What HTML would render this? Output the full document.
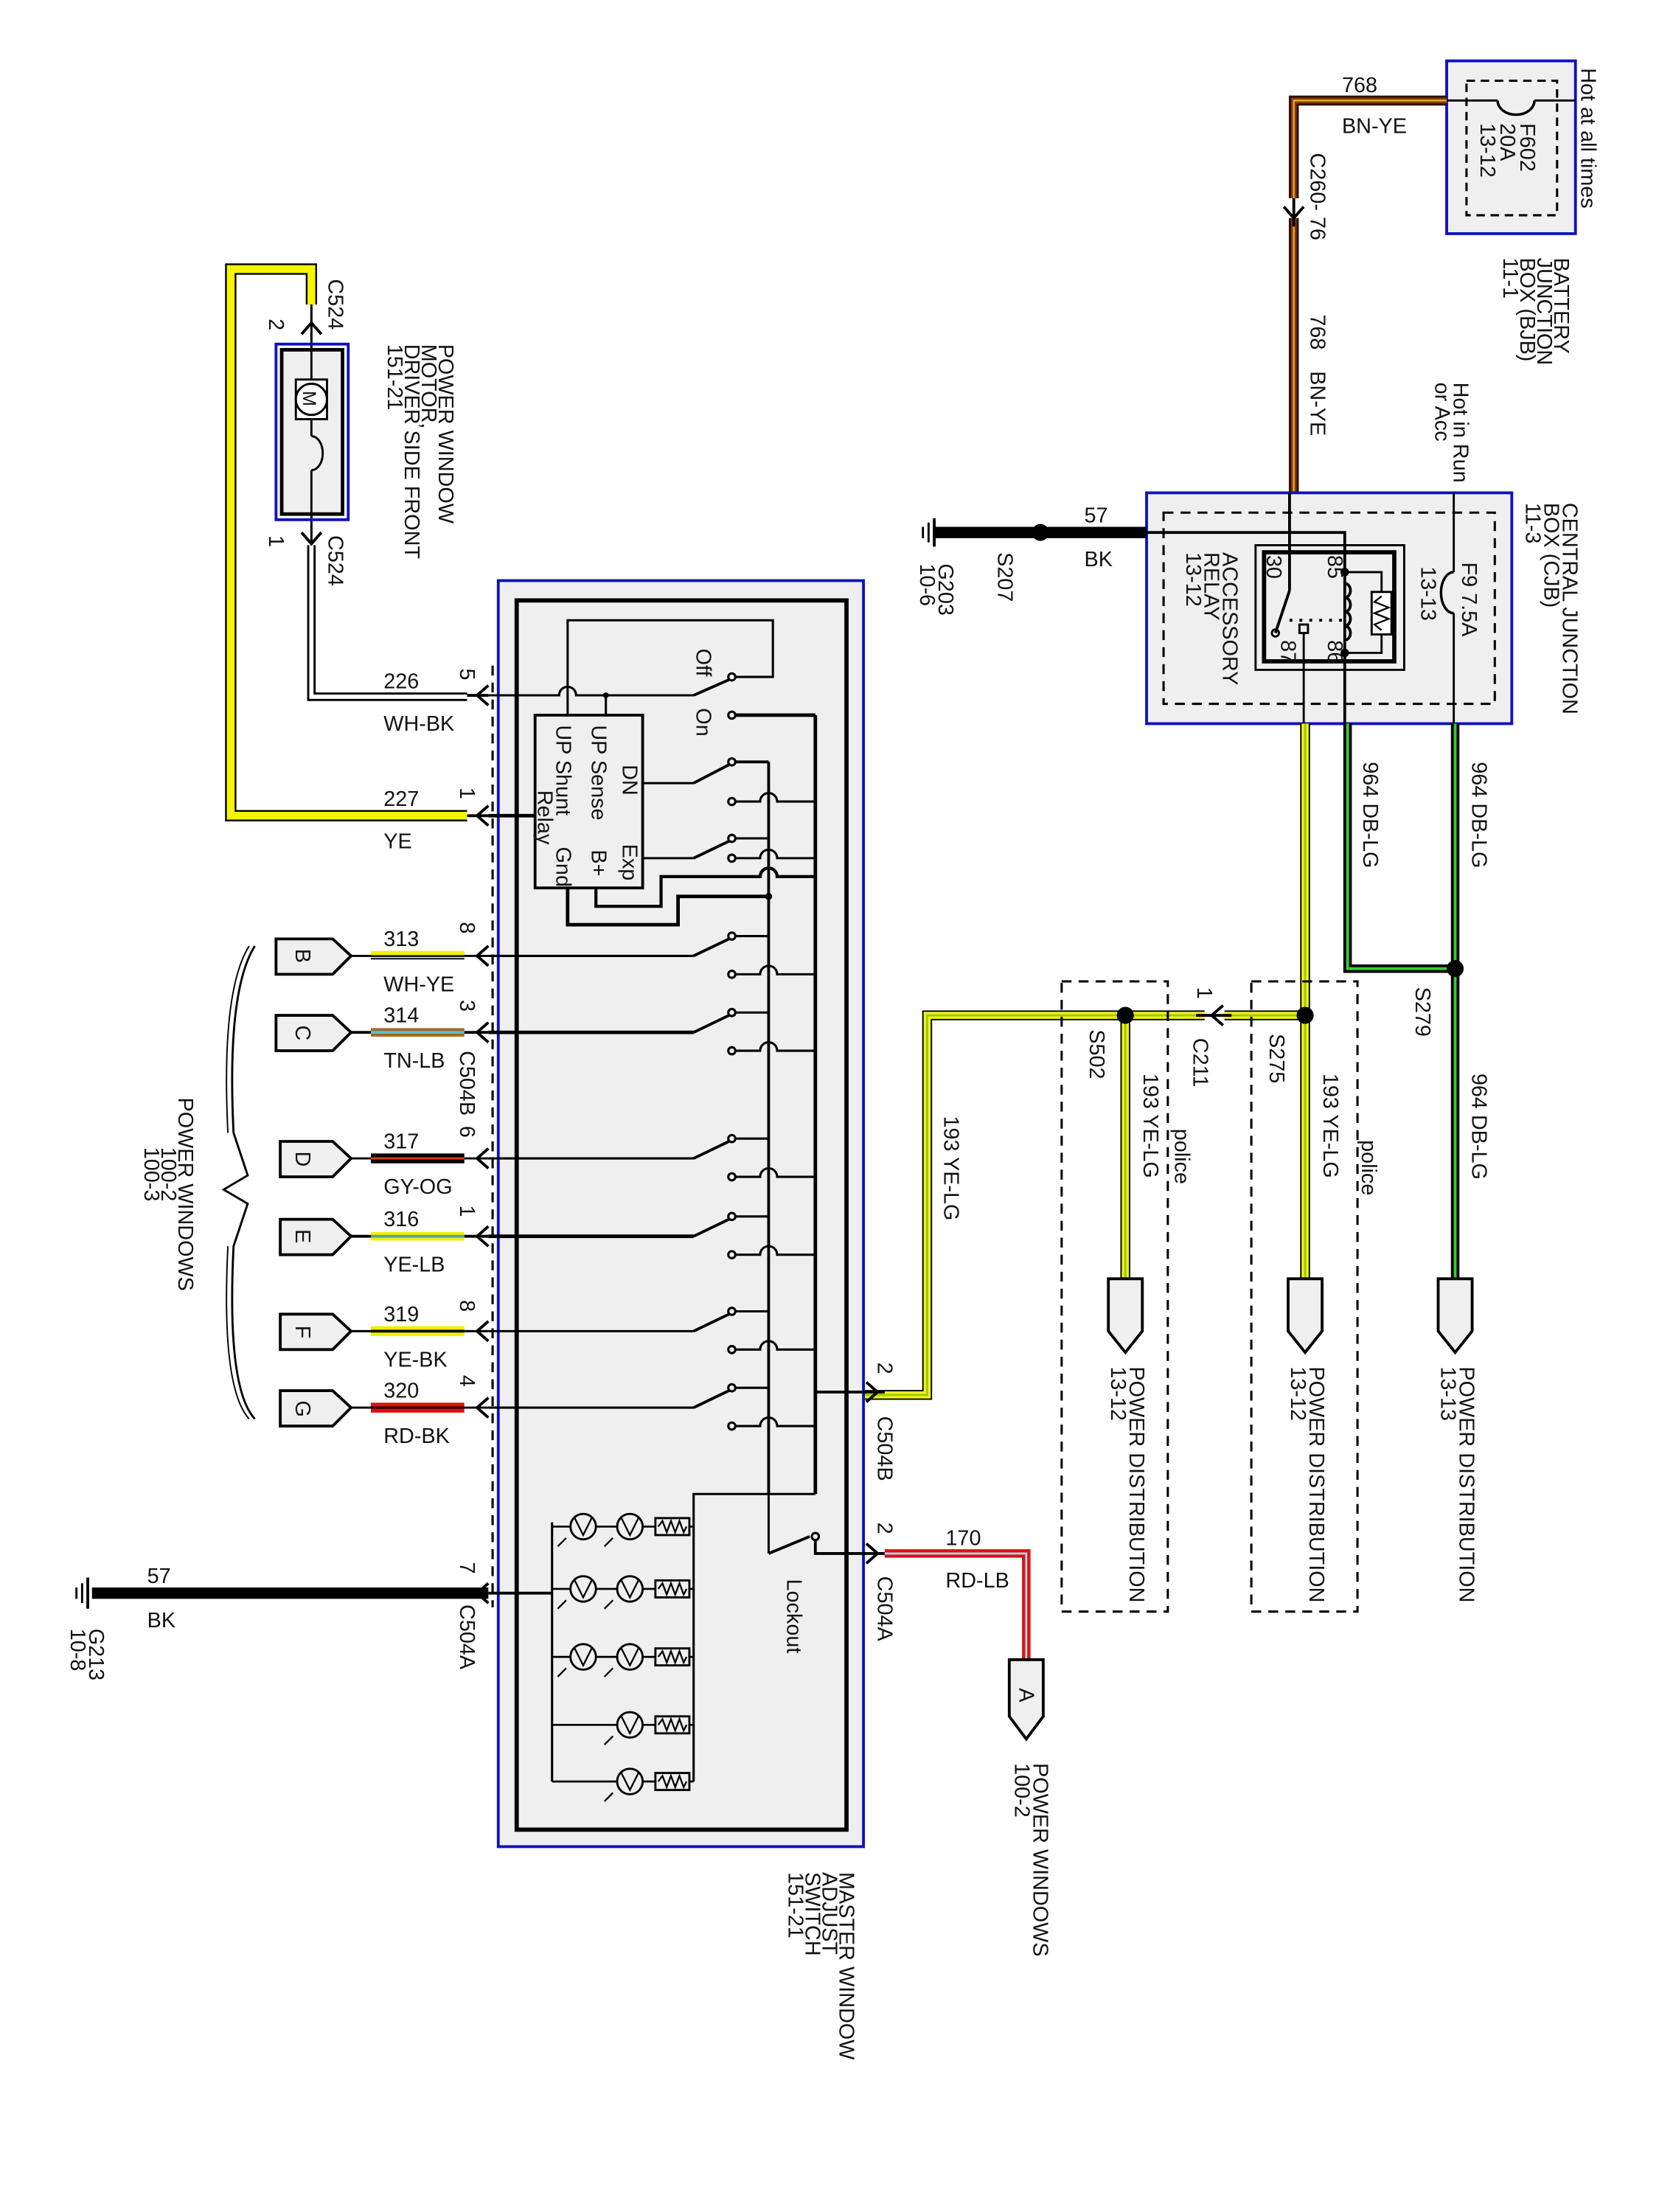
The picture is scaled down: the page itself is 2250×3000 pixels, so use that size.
<!DOCTYPE html>
<html><head><meta charset="utf-8"><style>
html,body{margin:0;padding:0;background:#fff}
svg{display:block}
text{font-family:"Liberation Sans",sans-serif;font-size:15px;fill:#111}
</style></head><body>
<svg width="2250" height="3000" viewBox="0 0 1172 1562" preserveAspectRatio="none" xmlns="http://www.w3.org/2000/svg">
<rect width="1172" height="1562" fill="#fff"/>

<!-- ===== BJB ===== -->
<rect x="1022" y="43" width="91" height="122" fill="#efefef" stroke="#1010c0" stroke-width="2"/>
<rect x="1036" y="57" width="64" height="95" fill="none" stroke="#000" stroke-width="1.6" stroke-dasharray="6,4"/>
<line x1="1022" y1="71" x2="1058" y2="71" stroke="#000" stroke-width="1.5"/>
<line x1="1084" y1="71" x2="1113" y2="71" stroke="#000" stroke-width="1.5"/>
<path d="M1058 71 A13 10 0 0 0 1084 71" fill="none" stroke="#000" stroke-width="1.8"/>
<g transform="translate(1074,87) rotate(90)"><text>F602</text></g>
<g transform="translate(1060,87) rotate(90)"><text>20A</text></g>
<g transform="translate(1046,87) rotate(90)"><text>13-12</text></g>
<g transform="translate(1117,48) rotate(90)"><text>Hot at all times</text></g>
<g transform="translate(1098,182) rotate(90)"><text>BATTERY</text></g>
<g transform="translate(1086,182) rotate(90)"><text>JUNCTION</text></g>
<g transform="translate(1074,182) rotate(90)"><text>BOX (BJB)</text></g>
<g transform="translate(1062,182) rotate(90)"><text>11-1</text></g>

<!-- wire 768 -->
<path d="M1022 71 H914 V348" fill="none" stroke="#2a0c00" stroke-width="7"/>
<path d="M1022 71 H914 V348" fill="none" stroke="#8a3a10" stroke-width="4"/>
<path d="M1022 71 H914 V348" fill="none" stroke="#f0c030" stroke-width="1"/>
<text x="948" y="65">768</text>
<text x="948" y="94">BN-YE</text>
<rect x="908" y="140" width="12" height="14" fill="#fff"/>
<line x1="914" y1="140" x2="914" y2="160" stroke="#000" stroke-width="2"/>
<path d="M907 146 L914 154 L921 146" fill="none" stroke="#000" stroke-width="2"/>
<g transform="translate(926,108) rotate(90)"><text>C260-  76</text></g>
<g transform="translate(926,222) rotate(90)"><text>768</text></g>
<g transform="translate(926,262) rotate(90)"><text>BN-YE</text></g>

<!-- ===== CJB ===== -->
<rect x="810" y="348" width="258" height="163" fill="#efefef" stroke="#1010c0" stroke-width="2"/>
<rect x="822" y="362" width="234" height="135" fill="none" stroke="#000" stroke-width="1.6" stroke-dasharray="7,5"/>
<rect x="887" y="385" width="105" height="88" fill="none" stroke="#000" stroke-width="1.5"/>
<rect x="893" y="390" width="92" height="77" fill="none" stroke="#000" stroke-width="3"/>
<line x1="911" y1="348" x2="911" y2="417" stroke="#000" stroke-width="2"/>
<line x1="911" y1="417" x2="901" y2="447" stroke="#000" stroke-width="2"/>
<circle cx="901" cy="447" r="2.5" fill="none" stroke="#000" stroke-width="1.5"/>
<rect x="918" y="441" width="6" height="6" fill="none" stroke="#000" stroke-width="1.5"/>
<line x1="921" y1="447" x2="921" y2="511" stroke="#000" stroke-width="1.5"/>
<line x1="911" y1="438" x2="950" y2="438" stroke="#000" stroke-width="2" stroke-dasharray="2,5"/>
<path d="M810 376 H950 V511" fill="none" stroke="#000" stroke-width="2"/>
<path d="M950 412 a4 5 0 0 1 0 10 a4 5 0 0 1 0 10 a4 5 0 0 1 0 10 a4 5 0 0 1 0 10" fill="none" stroke="#000" stroke-width="2"/>
<circle cx="950" cy="404" r="3" fill="#000"/><circle cx="950" cy="461" r="3" fill="#000"/>
<path d="M950 404 H976 V418 M976 448 V461 H950" fill="none" stroke="#000" stroke-width="1.5"/>
<rect x="969" y="418" width="14" height="30" fill="#fff" stroke="#000" stroke-width="1.5"/>
<path d="M976 421 l-5 4 l10 4 l-10 4 l10 4 l-10 4 l5 4" fill="none" stroke="#000" stroke-width="1.2"/>
<line x1="1027" y1="348" x2="1027" y2="404" stroke="#000" stroke-width="1.5"/>
<path d="M1027 404 A9 14.5 0 0 0 1027 433" fill="none" stroke="#000" stroke-width="1.8"/>
<line x1="1027" y1="433" x2="1027" y2="511" stroke="#000" stroke-width="1.5"/>
<g transform="translate(1033,397) rotate(90)"><text>F9  7.5A</text></g>
<g transform="translate(1004,400) rotate(90)"><text>13-13</text></g>
<g transform="translate(938,392) rotate(90)"><text>85</text></g>
<g transform="translate(938,452) rotate(90)"><text>86</text></g>
<g transform="translate(895,392) rotate(90)"><text>30</text></g>
<g transform="translate(905,452) rotate(90)"><text>87</text></g>
<g transform="translate(864,390) rotate(90)"><text>ACCESSORY</text></g>
<g transform="translate(851,390) rotate(90)"><text>RELAY</text></g>
<g transform="translate(838,390) rotate(90)"><text>13-12</text></g>
<g transform="translate(1104,355) rotate(90)"><text>CENTRAL JUNCTION</text></g>
<g transform="translate(1091,355) rotate(90)"><text>BOX (CJB)</text></g>
<g transform="translate(1078,355) rotate(90)"><text>11-3</text></g>
<g transform="translate(1027,270) rotate(90)"><text>Hot in Run</text></g>
<g transform="translate(1014,270) rotate(90)"><text>or Acc</text></g>

<!-- BK ground top -->
<line x1="810" y1="376" x2="660" y2="376" stroke="#000" stroke-width="8"/>
<circle cx="735" cy="376" r="6" fill="#000"/>
<line x1="660" y1="366" x2="660" y2="386" stroke="#000" stroke-width="2"/>
<line x1="656" y1="369" x2="656" y2="383" stroke="#000" stroke-width="1.5"/>
<line x1="652" y1="372" x2="652" y2="380" stroke="#000" stroke-width="1.5"/>
<text x="766" y="369">57</text>
<text x="766" y="400">BK</text>
<g transform="translate(705,390) rotate(90)"><text>S207</text></g>
<g transform="translate(663,398) rotate(90)"><text>G203</text></g>
<g transform="translate(650,398) rotate(90)"><text>10-6</text></g>

<!-- 964 DB-LG wires -->
<path d="M952 511 V684 H1028" fill="none" stroke="#000" stroke-width="6"/>
<path d="M952 511 V684 H1028" fill="none" stroke="#33cc33" stroke-width="2"/>
<line x1="1028" y1="511" x2="1028" y2="903" stroke="#000" stroke-width="6"/>
<line x1="1028" y1="511" x2="1028" y2="903" stroke="#33cc33" stroke-width="2"/>
<circle cx="1028" cy="684" r="6" fill="#000"/>
<g transform="translate(963,538) rotate(90)"><text>964   DB-LG</text></g>
<g transform="translate(1040,538) rotate(90)"><text>964   DB-LG</text></g>
<g transform="translate(1040,758) rotate(90)"><text>964   DB-LG</text></g>
<g transform="translate(1000,697) rotate(90)"><text>S279</text></g>

<!-- 193 YE-LG -->
<g fill="none">
<path d="M922 511 V903" stroke="#000" stroke-width="7"/>
<path d="M922 511 V903" stroke="#f0f020" stroke-width="5"/>
<path d="M922 511 V903" stroke="#99cc00" stroke-width="1.5"/>
<path d="M922 717 H655 V985 H610" stroke="#000" stroke-width="7"/>
<path d="M922 717 H655 V985 H610" stroke="#f0f020" stroke-width="5"/>
<path d="M922 717 H655 V985 H610" stroke="#99cc00" stroke-width="1.5"/>
<path d="M795 717 V903" stroke="#000" stroke-width="7"/>
<path d="M795 717 V903" stroke="#f0f020" stroke-width="5"/>
<path d="M795 717 V903" stroke="#99cc00" stroke-width="1.5"/>
</g>
<circle cx="922" cy="717" r="6" fill="#000"/>
<circle cx="795" cy="717" r="6" fill="#000"/>
<rect x="851" y="710" width="14" height="14" fill="#fff"/>
<line x1="845" y1="717" x2="870" y2="717" stroke="#000" stroke-width="2"/>
<path d="M864 710 L856 717 L864 724" fill="none" stroke="#000" stroke-width="2"/>
<g transform="translate(846,697) rotate(90)"><text>1</text></g>
<g transform="translate(843,733) rotate(90)"><text>C211</text></g>
<g transform="translate(897,730) rotate(90)"><text>S275</text></g>
<g transform="translate(770,727) rotate(90)"><text>S502</text></g>
<g transform="translate(935,758) rotate(90)"><text>193   YE-LG</text></g>
<g transform="translate(808,758) rotate(90)"><text>193   YE-LG</text></g>
<g transform="translate(667,788) rotate(90)"><text>193   YE-LG</text></g>
<g transform="translate(962,805) rotate(90)"><text>police</text></g>
<g transform="translate(830,797) rotate(90)"><text>police</text></g>
<rect x="750" y="693" width="75" height="445" fill="none" stroke="#000" stroke-width="1.6" stroke-dasharray="7,5"/>
<rect x="884" y="693" width="75" height="445" fill="none" stroke="#000" stroke-width="1.6" stroke-dasharray="7,5"/>

<!-- PD connectors -->
<g fill="#efefef" stroke="#000" stroke-width="2">
<path d="M783 903 H807 V940 L795 955 L783 940 Z"/>
<path d="M910 903 H934 V940 L922 955 L910 940 Z"/>
<path d="M1016 903 H1040 V940 L1028 955 L1016 940 Z"/>
</g>
<g transform="translate(798,965) rotate(90)"><text>POWER DISTRIBUTION</text></g>
<g transform="translate(785,965) rotate(90)"><text>13-12</text></g>
<g transform="translate(925,965) rotate(90)"><text>POWER DISTRIBUTION</text></g>
<g transform="translate(912,965) rotate(90)"><text>13-12</text></g>
<g transform="translate(1031,965) rotate(90)"><text>POWER DISTRIBUTION</text></g>
<g transform="translate(1018,965) rotate(90)"><text>13-13</text></g>

<!-- ===== MASTER SWITCH ===== -->
<rect x="352" y="410" width="258" height="894" fill="#efefef" stroke="#1010c0" stroke-width="2"/>
<rect x="365" y="424" width="233" height="868" fill="none" stroke="#000" stroke-width="3"/>
<line x1="348" y1="470" x2="348" y2="1135" stroke="#000" stroke-width="1.6" stroke-dasharray="7,5"/>
<g transform="translate(593,1322) rotate(90)"><text>MASTER WINDOW</text></g>
<g transform="translate(581,1322) rotate(90)"><text>ADJUST</text></g>
<g transform="translate(569,1322) rotate(90)"><text>SWITCH</text></g>
<g transform="translate(557,1322) rotate(90)"><text>151-21</text></g>

<g stroke="#000" fill="none" stroke-width="1.6">
<line x1="543" y1="538" x2="543" y2="1055" stroke-width="2"/>
<line x1="576" y1="505" x2="576" y2="1055" stroke-width="2.5"/>
<line x1="490" y1="491" x2="515" y2="480" stroke-width="2"/>
<circle cx="517" cy="478" r="2.5"/><circle cx="517" cy="505" r="2.5"/>
<path d="M520 478 H546 V438 H401 V505"/>
<path d="M520 505 H576" stroke-width="2.5"/>
<path d="M345 491 H395 A6 6 0 0 1 407 491 H490"/>
<line x1="428" y1="491" x2="428" y2="505"/>
<rect x="378" y="505" width="76" height="122" stroke-width="2"/>
<path d="M454 553 H490"/>
<line x1="490" y1="553" x2="515" y2="540" stroke-width="2"/>
<circle cx="517" cy="538" r="2.5"/><circle cx="517" cy="566" r="2.5"/>
<path d="M520 538 H543" stroke-width="2"/>
<path d="M520 566 H537 A6 6 0 0 1 549 566 H576"/>
<path d="M454 606 H490"/>
<line x1="490" y1="606" x2="515" y2="594" stroke-width="2"/>
<circle cx="517" cy="592" r="2.5"/><circle cx="517" cy="606" r="2.5"/>
<path d="M520 592 H543"/>
<path d="M520 606 H537 A6 6 0 0 1 549 606 H576"/>
<path d="M421 627 V640 H467 V619 H537 A6 6 0 0 1 549 619 H576" stroke-width="2.2"/>
<path d="M401 627 V653 H479 V633 H543" stroke-width="2.5"/>
<path d="M345 576 H378" stroke-width="2.5"/>
</g>
<circle cx="428" cy="491" r="2" fill="#000"/>
<circle cx="543" cy="633" r="2.5" fill="#000"/>
<g transform="translate(440,540) rotate(90)"><text>DN</text></g>
<g transform="translate(418,512) rotate(90)"><text>UP Sense</text></g>
<g transform="translate(393,512) rotate(90)"><text>UP Shunt</text></g>
<g transform="translate(380,558) rotate(90)"><text>Relay</text></g>
<g transform="translate(440,596) rotate(90)"><text>Exp</text></g>
<g transform="translate(418,600) rotate(90)"><text>B+</text></g>
<g transform="translate(393,598) rotate(90)"><text>Gnd</text></g>
<g transform="translate(492,458) rotate(90)"><text>Off</text></g>
<g transform="translate(492,500) rotate(90)"><text>On</text></g>

<g stroke="#000" fill="none" stroke-width="1.6">
<path d="M345 675 H490"/><line x1="490" y1="675" x2="515" y2="663" stroke-width="2"/>
<circle cx="517" cy="661" r="2.5"/><circle cx="517" cy="688" r="2.5"/>
<path d="M520 661 H543"/><path d="M520 688 H537 A6 6 0 0 1 549 688 H576"/>
<path d="M345 729 H490" stroke-width="2.5"/><line x1="490" y1="729" x2="515" y2="717" stroke-width="2"/>
<circle cx="517" cy="715" r="2.5"/><circle cx="517" cy="742" r="2.5"/>
<path d="M520 715 H543"/><path d="M520 742 H537 A6 6 0 0 1 549 742 H576"/>
<path d="M345 818 H490"/><line x1="490" y1="818" x2="515" y2="806" stroke-width="2"/>
<circle cx="517" cy="804" r="2.5"/><circle cx="517" cy="831" r="2.5"/>
<path d="M520 804 H543"/><path d="M520 831 H537 A6 6 0 0 1 549 831 H576"/>
<path d="M345 873 H490" stroke-width="2.5"/><line x1="490" y1="873" x2="515" y2="861" stroke-width="2"/>
<circle cx="517" cy="859" r="2.5"/><circle cx="517" cy="886" r="2.5"/>
<path d="M520 859 H543"/><path d="M520 886 H537 A6 6 0 0 1 549 886 H576"/>
<path d="M345 940 H490"/><line x1="490" y1="940" x2="515" y2="928" stroke-width="2"/>
<circle cx="517" cy="926" r="2.5"/><circle cx="517" cy="953" r="2.5"/>
<path d="M520 926 H543"/><path d="M520 953 H537 A6 6 0 0 1 549 953 H576"/>
<path d="M345 994 H490"/><line x1="490" y1="994" x2="515" y2="982" stroke-width="2"/>
<circle cx="517" cy="980" r="2.5"/><circle cx="517" cy="1007" r="2.5"/>
<path d="M520 980 H543"/><path d="M520 1007 H537 A6 6 0 0 1 549 1007 H576"/>
<path d="M576 983 H625" stroke-width="2"/>
<path d="M576 1055 H490 V1258" stroke-width="1.6"/>
<path d="M543 1055 V1097"/>
<line x1="543" y1="1097" x2="572" y2="1085" stroke-width="2"/>
<circle cx="576" cy="1085" r="2.5"/>
<path d="M576 1088 V1097 H625" stroke-width="2"/>
<path d="M390 1075 V1258"/>
</g>
<g transform="translate(556,1115) rotate(90)"><text>Lockout</text></g>

<g stroke="#000" fill="none" stroke-width="1.4">
<path d="M390 1078 H490 M390 1122 H490 M390 1170 H490 M390 1218 H490 M390 1258 H490"/>
</g>
<g fill="#efefef" stroke="#000" stroke-width="1.5">
<circle cx="412" cy="1078" r="9"/><circle cx="445" cy="1078" r="9"/>
<circle cx="412" cy="1122" r="9"/><circle cx="445" cy="1122" r="9"/>
<circle cx="412" cy="1170" r="9"/><circle cx="445" cy="1170" r="9"/>
<circle cx="445" cy="1218" r="9"/><circle cx="445" cy="1258" r="9"/>
<rect x="463" y="1072" width="24" height="12"/><rect x="463" y="1116" width="24" height="12"/>
<rect x="463" y="1164" width="24" height="12"/><rect x="463" y="1212" width="24" height="12"/>
<rect x="463" y="1252" width="24" height="12"/>
</g>
<g stroke="#000" fill="none" stroke-width="1.2">
<path d="M465 1078 l3 -4 l3 8 l3 -8 l3 8 l3 -8 l3 8 l2 -4"/>
<path d="M465 1122 l3 -4 l3 8 l3 -8 l3 8 l3 -8 l3 8 l2 -4"/>
<path d="M465 1170 l3 -4 l3 8 l3 -8 l3 8 l3 -8 l3 8 l2 -4"/>
<path d="M465 1218 l3 -4 l3 8 l3 -8 l3 8 l3 -8 l3 8 l2 -4"/>
<path d="M465 1258 l3 -4 l3 8 l3 -8 l3 8 l3 -8 l3 8 l2 -4"/>
<path d="M406 1072 l6 12 l6 -12 M439 1072 l6 12 l6 -12 M406 1116 l6 12 l6 -12 M439 1116 l6 12 l6 -12 M406 1164 l6 12 l6 -12 M439 1164 l6 12 l6 -12 M439 1212 l6 12 l6 -12 M439 1252 l6 12 l6 -12"/>
<path d="M400 1086 l-6 6 M433 1086 l-6 6 M400 1130 l-6 6 M433 1130 l-6 6 M400 1178 l-6 6 M433 1178 l-6 6 M433 1226 l-6 6 M433 1266 l-6 6"/>
</g>

<g stroke="#000" fill="none" stroke-width="2">
<path d="M612 976 L620 983 L612 990"/>
<path d="M612 1090 L620 1097 L612 1104"/>
</g>
<g transform="translate(620,962) rotate(90)"><text>2</text></g>
<g transform="translate(620,1000) rotate(90)"><text>C504B</text></g>
<g transform="translate(620,1075) rotate(90)"><text>2</text></g>
<g transform="translate(620,1113) rotate(90)"><text>C504A</text></g>

<path d="M625 1097 H725 V1172" fill="none" stroke="#dd1111" stroke-width="6"/>
<path d="M625 1097 H725 V1172" fill="none" stroke="#9fd8f0" stroke-width="1.5"/>
<text x="668" y="1091">170</text>
<text x="668" y="1121">RD-LB</text>
<path d="M713 1172 H737 V1212 L725 1228 L713 1212 Z" fill="#efefef" stroke="#000" stroke-width="2"/>
<g transform="translate(720,1192) rotate(90)"><text>A</text></g>
<g transform="translate(730,1245) rotate(90)"><text>POWER WINDOWS</text></g>
<g transform="translate(717,1245) rotate(90)"><text>100-2</text></g>

<!-- ===== MOTOR ===== -->
<path d="M220 215 V190 H163 V576 H330" fill="none" stroke="#000" stroke-width="8"/>
<path d="M220 215 V190 H163 V576 H330" fill="none" stroke="#f5f500" stroke-width="5.5"/>
<path d="M220 385 V492 H330" fill="none" stroke="#000" stroke-width="6"/>
<path d="M220 385 V492 H330" fill="none" stroke="#fff" stroke-width="3"/>
<line x1="220" y1="215" x2="220" y2="247" stroke="#000" stroke-width="1.6"/>
<line x1="220" y1="363" x2="220" y2="385" stroke="#000" stroke-width="1.6"/>
<path d="M213 236 L220 228 L227 236" fill="none" stroke="#000" stroke-width="2"/>
<path d="M213 376 L220 384 L227 376" fill="none" stroke="#000" stroke-width="2"/>
<rect x="195" y="243" width="51" height="124" fill="none" stroke="#1010c0" stroke-width="2"/>
<rect x="199" y="247" width="43" height="116" fill="#efefef" stroke="#000" stroke-width="2.5"/>
<line x1="220" y1="247" x2="220" y2="268" stroke="#000" stroke-width="1.5"/>
<rect x="209" y="268" width="22" height="28" fill="#fff" stroke="#000" stroke-width="1.5"/>
<circle cx="220" cy="282" r="11" fill="#fff" stroke="#000" stroke-width="1.5"/>
<g transform="translate(214,276) rotate(90)"><text style="font-size:13px">M</text></g>
<path d="M220 296 V308 M220 308 A8 12 0 0 1 220 332 M220 332 V363" fill="none" stroke="#000" stroke-width="1.5"/>
<g transform="translate(232,197) rotate(90)"><text>C524</text></g>
<g transform="translate(190,225) rotate(90)"><text>2</text></g>
<g transform="translate(232,378) rotate(90)"><text>C524</text></g>
<g transform="translate(190,378) rotate(90)"><text>1</text></g>
<g transform="translate(310,243) rotate(90)"><text>POWER WINDOW</text></g>
<g transform="translate(298,243) rotate(90)"><text>MOTOR,</text></g>
<g transform="translate(286,243) rotate(90)"><text>DRIVER SIDE FRONT</text></g>
<g transform="translate(274,243) rotate(90)"><text>151-21</text></g>
<text x="271" y="486">226</text>
<text x="271" y="516">WH-BK</text>
<text x="271" y="569">227</text>
<text x="271" y="599">YE</text>

<g stroke="#000" fill="none" stroke-width="2">
<path d="M345 484 L337 491 L345 498"/>
<path d="M345 569 L337 576 L345 583"/>
<path d="M345 668 L337 675 L345 682"/>
<path d="M345 722 L337 729 L345 736"/>
<path d="M345 811 L337 818 L345 825"/>
<path d="M345 866 L337 873 L345 880"/>
<path d="M345 933 L337 940 L345 947"/>
<path d="M345 987 L337 994 L345 1001"/>
<path d="M345 1118 L337 1125 L345 1132"/>
<line x1="330" y1="491" x2="345" y2="491"/>
<line x1="330" y1="576" x2="345" y2="576"/>
</g>
<g transform="translate(325,472) rotate(90)"><text>5</text></g>
<g transform="translate(325,556) rotate(90)"><text>1</text></g>
<g transform="translate(325,651) rotate(90)"><text>8</text></g>
<g transform="translate(325,706) rotate(90)"><text>3</text></g>
<g transform="translate(325,742) rotate(90)"><text>C504B</text></g>
<g transform="translate(325,795) rotate(90)"><text>6</text></g>
<g transform="translate(325,851) rotate(90)"><text>1</text></g>
<g transform="translate(325,918) rotate(90)"><text>8</text></g>
<g transform="translate(325,971) rotate(90)"><text>4</text></g>
<g transform="translate(325,1103) rotate(90)"><text>7</text></g>
<g transform="translate(325,1133) rotate(90)"><text>C504A</text></g>

<g fill="none">
<line x1="248" y1="675" x2="345" y2="675" stroke="#000" stroke-width="1.5"/>
<line x1="262" y1="673" x2="328" y2="673" stroke="#f0f000" stroke-width="3"/>
<line x1="262" y1="677" x2="328" y2="677" stroke="#000" stroke-width="1"/>
<line x1="248" y1="729" x2="345" y2="729" stroke="#000" stroke-width="2"/>
<line x1="262" y1="729" x2="328" y2="729" stroke="#a06a20" stroke-width="6"/>
<line x1="262" y1="729" x2="328" y2="729" stroke="#5cc0c8" stroke-width="2"/>
<line x1="248" y1="818" x2="345" y2="818" stroke="#000" stroke-width="1.5"/>
<line x1="262" y1="818" x2="328" y2="818" stroke="#000" stroke-width="7"/>
<line x1="262" y1="818" x2="328" y2="818" stroke="#e04010" stroke-width="1.5"/>
<line x1="248" y1="873" x2="345" y2="873" stroke="#000" stroke-width="2"/>
<line x1="262" y1="873" x2="328" y2="873" stroke="#f0f000" stroke-width="6"/>
<line x1="262" y1="873" x2="328" y2="873" stroke="#4aa8a0" stroke-width="2"/>
<line x1="248" y1="940" x2="345" y2="940" stroke="#000" stroke-width="1.5"/>
<line x1="262" y1="940" x2="328" y2="940" stroke="#f0f000" stroke-width="7"/>
<line x1="262" y1="940" x2="328" y2="940" stroke="#000" stroke-width="2"/>
<line x1="248" y1="994" x2="345" y2="994" stroke="#000" stroke-width="1.5"/>
<line x1="262" y1="994" x2="328" y2="994" stroke="#e01010" stroke-width="7"/>
<line x1="262" y1="994" x2="328" y2="994" stroke="#000" stroke-width="1.5"/>
</g>
<g fill="#efefef" stroke="#000" stroke-width="2">
<path d="M195 663 H235 L248 675 L235 688 H195 Z"/>
<path d="M195 717 H235 L248 729 L235 742 H195 Z"/>
<path d="M198 806 H235 L248 818 L235 831 H198 Z"/>
<path d="M198 861 H235 L248 873 L235 886 H198 Z"/>
<path d="M198 928 H235 L248 940 L235 953 H198 Z"/>
<path d="M198 982 H235 L248 994 L235 1007 H198 Z"/>
</g>
<g transform="translate(209,670) rotate(90)"><text>B</text></g>
<g transform="translate(209,724) rotate(90)"><text>C</text></g>
<g transform="translate(209,813) rotate(90)"><text>D</text></g>
<g transform="translate(209,868) rotate(90)"><text>E</text></g>
<g transform="translate(209,936) rotate(90)"><text>F</text></g>
<g transform="translate(209,989) rotate(90)"><text>G</text></g>
<text x="271" y="668">313</text><text x="271" y="700">WH-YE</text>
<text x="271" y="722">314</text><text x="271" y="754">TN-LB</text>
<text x="271" y="811">317</text><text x="271" y="843">GY-OG</text>
<text x="271" y="866">316</text><text x="271" y="898">YE-LB</text>
<text x="271" y="933">319</text><text x="271" y="965">YE-BK</text>
<text x="271" y="987">320</text><text x="271" y="1019">RD-BK</text>

<path d="M180 668 Q160 700 165 800 L175 830 L158 840 L175 850 L165 880 Q160 980 180 1002" fill="none" stroke="#000" stroke-width="1.5"/>
<path d="M176 668 Q156 700 161 800 M161 880 Q156 980 176 1002" fill="none" stroke="#000" stroke-width="1"/>
<g transform="translate(126,775) rotate(90)"><text>POWER WINDOWS</text></g>
<g transform="translate(114,810) rotate(90)"><text>100-2</text></g>
<g transform="translate(102,810) rotate(90)"><text>100-3</text></g>

<line x1="345" y1="1125" x2="65" y2="1125" stroke="#000" stroke-width="8"/>
<line x1="345" y1="1125" x2="390" y2="1125" stroke="#000" stroke-width="2"/>
<line x1="62" y1="1114" x2="62" y2="1136" stroke="#000" stroke-width="2"/>
<line x1="58" y1="1118" x2="58" y2="1132" stroke="#000" stroke-width="1.5"/>
<line x1="54" y1="1121" x2="54" y2="1129" stroke="#000" stroke-width="1.5"/>
<text x="104" y="1118">57</text>
<text x="104" y="1149">BK</text>
<g transform="translate(63,1150) rotate(90)"><text>G213</text></g>
<g transform="translate(50,1150) rotate(90)"><text>10-8</text></g>
</svg>
</body></html>
